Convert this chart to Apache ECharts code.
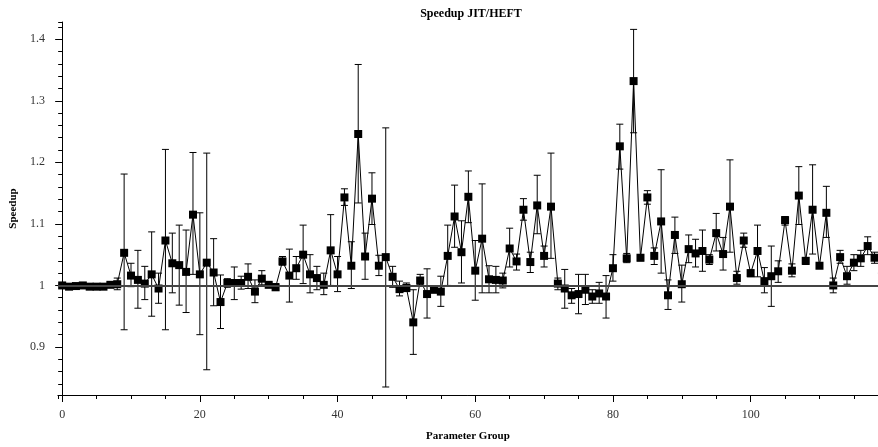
<!DOCTYPE html>
<html>
<head>
<meta charset="utf-8">
<script src="https://cdn.jsdelivr.net/npm/echarts@6/dist/echarts.min.js"></script>
<style>
  html, body { margin: 0; padding: 0; background: #fff; }
  #chart { width: 878px; height: 447px; }
</style>
</head>
<body>
<div id="chart"></div>
<script>
// parameter group index
var groups = [
  0, 1, 2, 3, 4, 5, 6, 7, 8, 9, 10, 11, 12, 13, 14, 15, 16, 17, 18, 19,
  20, 21, 22, 23, 24, 25, 26, 27, 28, 29, 30, 31, 32, 33, 34, 35, 36, 37, 38, 39,
  40, 41, 42, 43, 44, 45, 46, 47, 48, 49, 50, 51, 52, 53, 54, 55, 56, 57, 58, 59,
  60, 61, 62, 63, 64, 65, 66, 67, 68, 69, 70, 71, 72, 73, 74, 75, 76, 77, 78, 79,
  80, 81, 82, 83, 84, 85, 86, 87, 88, 89, 90, 91, 92, 93, 94, 95, 96, 97, 98, 99,
  100, 101, 102, 103, 104, 105, 106, 107, 108, 109, 110, 111, 112, 113, 114, 115, 116, 117, 118, 119
];
// mean speedup JIT/HEFT
var speedup = [
  1.000, 0.998, 0.999, 1.000, 0.998, 0.998, 0.998, 1.001, 1.002, 1.053,
  1.016, 1.009, 1.003, 1.018, 0.995, 1.073, 1.036, 1.033, 1.022, 1.115,
  1.018, 1.037, 1.021, 0.973, 1.004, 1.004, 1.004, 1.014, 0.990, 1.011,
  1.001, 0.997, 1.039, 1.016, 1.028, 1.050, 1.018, 1.012, 1.001, 1.057,
  1.018, 1.143, 1.032, 1.246, 1.047, 1.141, 1.032, 1.046, 1.014, 0.994,
  0.996, 0.940, 1.008, 0.986, 0.993, 0.990, 1.048, 1.112, 1.054, 1.144,
  1.024, 1.076, 1.010, 1.009, 1.008, 1.060, 1.039, 1.123, 1.038, 1.130,
  1.048, 1.128, 1.003, 0.995, 0.984, 0.986, 0.993, 0.982, 0.987, 0.982,
  1.028, 1.226, 1.044, 1.332, 1.045, 1.143, 1.048, 1.104, 0.984, 1.082,
  1.002, 1.059, 1.052, 1.056, 1.042, 1.085, 1.051, 1.128, 1.012, 1.073,
  1.020, 1.056, 1.007, 1.015, 1.023, 1.106, 1.024, 1.146, 1.040, 1.123,
  1.032, 1.118, 1.000, 1.046, 1.015, 1.037, 1.044, 1.064, 1.045, 1.052
];
// error bar lower ends
var errLow = [
  0.998, 0.997, 0.998, 0.998, 0.997, 0.997, 0.997, 0.998, 0.993, 0.928,
  0.998, 0.963, 0.977, 0.950, 0.971, 0.928, 0.988, 0.968, 0.956, 1.018,
  0.920, 0.863, 0.967, 0.930, 0.997, 0.977, 0.994, 0.995, 0.972, 1.001,
  0.998, 0.992, 1.033, 0.973, 1.010, 1.003, 0.988, 0.993, 0.985, 1.000,
  0.990, 1.130, 0.995, 1.134, 1.010, 1.099, 1.016, 0.835, 0.997, 0.983,
  0.990, 0.888, 1.002, 0.947, 0.988, 0.966, 1.000, 1.062, 1.004, 1.102,
  0.976, 0.988, 0.988, 0.988, 0.996, 1.030, 1.025, 1.106, 1.021, 1.084,
  1.030, 1.044, 0.993, 0.963, 0.971, 0.954, 0.969, 0.971, 0.971, 0.947,
  1.007, 1.189, 1.037, 1.248, 1.040, 1.132, 1.034, 1.020, 0.961, 1.052,
  0.973, 1.037, 1.030, 1.023, 1.034, 1.056, 1.025, 1.054, 1.002, 1.062,
  1.014, 1.014, 0.988, 0.966, 1.005, 1.098, 1.014, 1.099, 1.034, 1.051,
  1.028, 1.078, 0.988, 1.036, 1.002, 1.024, 1.031, 1.050, 1.036, 1.020
];
// error bar upper ends
var errHigh = [
  1.002, 1.000, 1.001, 1.002, 0.999, 0.999, 1.000, 1.004, 1.012, 1.181,
  1.036, 1.057, 1.031, 1.087, 1.020, 1.221, 1.085, 1.098, 1.090, 1.216,
  1.118, 1.215, 1.076, 1.017, 1.011, 1.030, 1.015, 1.035, 1.009, 1.024,
  1.004, 1.003, 1.047, 1.059, 1.047, 1.098, 1.050, 1.031, 1.020, 1.115,
  1.047, 1.157, 1.071, 1.359, 1.085, 1.183, 1.049, 1.256, 1.031, 1.007,
  1.004, 0.993, 1.018, 1.027, 0.998, 1.015, 1.098, 1.163, 1.105, 1.186,
  1.073, 1.165, 1.032, 1.031, 1.020, 1.093, 1.051, 1.141, 1.054, 1.179,
  1.064, 1.215, 1.012, 1.026, 0.995, 1.018, 1.018, 0.993, 1.005, 1.016,
  1.050, 1.262, 1.052, 1.416, 1.048, 1.154, 1.061, 1.188, 1.009, 1.111,
  1.033, 1.082, 1.075, 1.090, 1.050, 1.117, 1.078, 1.204, 1.023, 1.085,
  1.025, 1.098, 1.029, 1.064, 1.040, 1.112, 1.035, 1.193, 1.045, 1.196,
  1.036, 1.161, 1.012, 1.057, 1.031, 1.050, 1.057, 1.079, 1.054, 1.088
];

var font = 'Liberation Serif';
var xMin = -0.62, xMax = 118.5;
var yMin = 0.822, yMax = 1.428;

var myChart = echarts.init(document.getElementById('chart'));

var pointData = groups.map(function (g, i) { return [g, speedup[i]]; });
var errData = groups.map(function (g, i) { return [g, errLow[i], errHigh[i]]; });

myChart.setOption({
    animation: false,
    backgroundColor: '#fff',
    title: {
        text: 'Speedup JIT/HEFT',
        left: 466,
        textAlign: 'center',
        top: 3,
        textStyle: { fontFamily: font, fontWeight: 'bold', fontSize: 12, color: '#000' }
    },
    grid: { left: 54, right: 0, top: 22, bottom: 52 },
    xAxis: [
        {
            type: 'value',
            min: xMin,
            max: xMax,
            splitNumber: 6,
            name: 'Parameter Group',
            nameLocation: 'middle',
            nameGap: 36,
            nameTextStyle: { fontFamily: font, fontWeight: 'bold', fontSize: 11, color: '#000' },
            axisLine: { lineStyle: { color: '#000', width: 1 } },
            axisTick: { length: 7, lineStyle: { color: '#000' } },
            axisLabel: { fontFamily: font, fontSize: 12, color: '#333', margin: 14,
                         showMinLabel: false, showMaxLabel: false },
            splitLine: { show: false }
        },
        {   // minor ticks every 5
            type: 'value',
            min: xMin,
            max: xMax,
            splitNumber: 24,
            position: 'bottom',
            axisLine: { show: false },
            axisTick: { length: 4, lineStyle: { color: '#000' } },
            axisLabel: { show: false },
            splitLine: { show: false }
        }
    ],
    yAxis: [
        {
            type: 'value',
            min: yMin,
            max: yMax,
            splitNumber: 6,
            name: 'Speedup',
            nameLocation: 'middle',
            nameGap: 38,
            nameTextStyle: { fontFamily: font, fontWeight: 'bold', fontSize: 11, color: '#000' },
            axisLine: { show: true, lineStyle: { color: '#000', width: 1 } },
            axisTick: { show: true, length: 7, lineStyle: { color: '#000' } },
            axisLabel: { fontFamily: font, fontSize: 12, color: '#333', margin: 13,
                         showMinLabel: false, showMaxLabel: false },
            splitLine: { show: false }
        },
        {   // minor ticks every 0.02
            type: 'value',
            min: yMin,
            max: yMax,
            splitNumber: 30,
            position: 'left',
            axisLine: { show: false },
            axisTick: { show: true, length: 4, lineStyle: { color: '#000' } },
            axisLabel: { show: false },
            splitLine: { show: false }
        }
    ],
    series: [
        {
            name: 'error',
            type: 'custom',
            clip: true,
            data: errData,
            encode: { x: 0, y: [1, 2] },
            renderItem: function (params, api) {
                var x = api.value(0);
                var lo = api.coord([x, api.value(1)]);
                var hi = api.coord([x, api.value(2)]);
                var w = 3.5;
                var st = { stroke: '#000', lineWidth: 1 };
                return {
                    type: 'group',
                    children: [
                        { type: 'line', shape: { x1: hi[0], y1: hi[1], x2: lo[0], y2: lo[1] }, style: st },
                        { type: 'line', shape: { x1: hi[0] - w, y1: hi[1], x2: hi[0] + w, y2: hi[1] }, style: st },
                        { type: 'line', shape: { x1: lo[0] - w, y1: lo[1], x2: lo[0] + w, y2: lo[1] }, style: st }
                    ]
                };
            },
            z: 2
        },
        {
            name: 'Speedup',
            type: 'line',
            data: pointData,
            clip: true,
            symbol: 'rect',
            symbolSize: 8,
            showAllSymbol: true,
            itemStyle: { color: '#000' },
            lineStyle: { color: '#000', width: 1 },
            markLine: {
                silent: true,
                symbol: 'none',
                label: { show: false },
                lineStyle: { color: '#444', width: 2, type: 'solid' },
                data: [{ yAxis: 1 }]
            },
            z: 3
        }
    ]
});

window.addEventListener('resize', function () {
    myChart.resize();
});
</script>
</body>
</html>
